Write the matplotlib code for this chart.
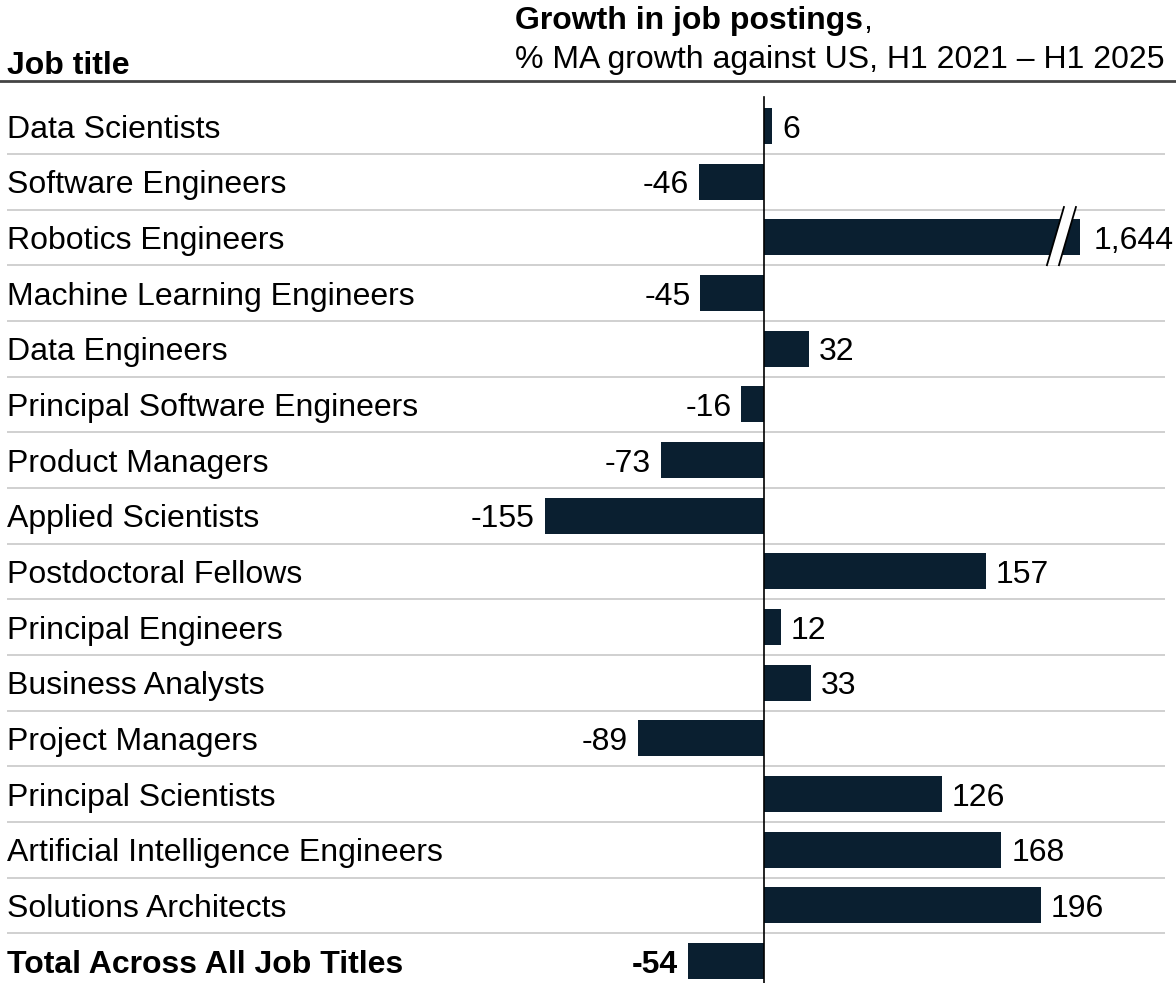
import matplotlib
matplotlib.use("Agg")
import matplotlib.pyplot as plt
from matplotlib.patches import Polygon

plt.rcParams['font.family'] = ['Liberation Sans', 'DejaVu Sans']

categories = ["Data Scientists", "Software Engineers", "Robotics Engineers",
              "Machine Learning Engineers", "Data Engineers",
              "Principal Software Engineers", "Product Managers",
              "Applied Scientists", "Postdoctoral Fellows", "Principal Engineers",
              "Business Analysts", "Project Managers", "Principal Scientists",
              "Artificial Intelligence Engineers", "Solutions Architects",
              "Total Across All Job Titles"]
values = [6, -46, 1644, -45, 32, -16, -73, -155, 157, 12, 33, -89, 126, 168, 196, -54]

CAP = 223.6  # display cap for the broken bar
BAR_COLOR = "#0a1f30"
W, H = 1176, 983
fig = plt.figure(figsize=(W / 100, H / 100), dpi=100)
ax = fig.add_axes([0, 0, 1, 1])
pxu = 1.413  # px per unit
zero_px = 764
ax.set_xlim(-zero_px / pxu, (W - zero_px) / pxu)
row_px = 55.67
first_px = 126
ax.set_ylim((H - first_px) / row_px, -first_px / row_px)
ax.axis('off')

n = len(categories)
disp = [min(v, CAP) for v in values]
ax.barh(range(n), disp, height=0.65, color=BAR_COLOR, zorder=3)

fs = 23
off = 10 / pxu
for i, (c, v, d) in enumerate(zip(categories, values, disp)):
    bold = (i == n - 1)
    ax.text(7 / pxu - zero_px / pxu, i, c, ha='left', va='center_baseline', fontsize=fs,
            fontweight='bold' if bold else 'normal', color='black')
    lab = f"{v:,}"
    if v >= 0:
        extra = 4 / pxu if v > CAP else 0
        ax.text(d + off + extra, i, lab, ha='left', va='center_baseline', fontsize=fs,
                fontweight='bold' if bold else 'normal')
    else:
        ax.text(d - off, i, lab, ha='right', va='center_baseline', fontsize=fs,
                fontweight='bold' if bold else 'normal')

# separators
for i in range(n - 1):
    ax.plot([7 / pxu - zero_px / pxu, 1165 / pxu - zero_px / pxu], [i + 0.5, i + 0.5],
            color="#d0d0d0", lw=1.4, zorder=1, solid_capstyle='butt')

# zero line
ax.plot([0, 0], [-0.52, (H - first_px) / row_px], color='black', lw=1.2, zorder=4)

# header line
ax.plot(ax.get_xlim(), [-(first_px - 81) / row_px] * 2, color='#444444', lw=2, zorder=4)

# break marks on the capped bar
bi = values.index(max(values))
s = 17 / pxu
xl_b, xr_b = CAP - 33 / pxu, CAP - 21 / pxu
yb, yt = bi + 0.5, bi - 0.545
ax.add_patch(Polygon([[xl_b, yb], [xr_b, yb], [xr_b + s, yt], [xl_b + s, yt]],
                     closed=True, facecolor='white', edgecolor='none', zorder=5))
ax.plot([xl_b, xl_b + s], [yb, yt], color='black', lw=1.3, zorder=6)
ax.plot([xr_b, xr_b + s], [yb, yt], color='black', lw=1.3, zorder=6)

# headers
fig.text(7 / W, 1 - 74 / H, "Job title", fontsize=fs, fontweight='bold', ha='left', va='baseline')
t1 = fig.text(515 / W, 1 - 29 / H, "Growth in job postings", fontsize=fs, fontweight='bold',
              ha='left', va='baseline')
fig.canvas.draw()
bb = t1.get_window_extent()
fig.text(bb.x1 / W, 1 - 29 / H, ",", fontsize=fs, ha='left', va='baseline')
fig.text(515 / W, 1 - 68 / H, "% MA growth against US, H1 2021 \u2013 H1 2025", fontsize=fs,
         ha='left', va='baseline')

fig.savefig("out.png", dpi=100)
